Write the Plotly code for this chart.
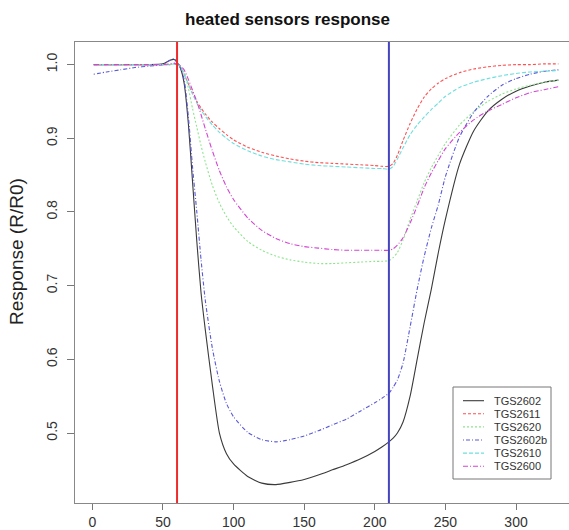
import plotly.graph_objects as go

# ---------------- data ----------------
time = [1, 10, 20, 30, 40, 50, 55, 58, 60, 62, 65, 68, 71, 74, 77, 80, 85, 90, 95, 100,
        110, 120, 130, 140, 150, 160, 170, 180, 190, 200, 205, 210, 213, 216, 220, 225,
        230, 235, 240, 245, 250, 260, 270, 280, 290, 300, 310, 320, 330]

tgs2602 = [1.0, 1.0, 1.0, 1.0, 1.0, 1.001, 1.006, 1.007, 1.003, 0.997, 0.975, 0.92, 0.84, 0.76, 0.69, 0.64, 0.565, 0.50, 0.472, 0.458,
           0.441, 0.432, 0.430, 0.433, 0.437, 0.443, 0.450, 0.457, 0.465, 0.475, 0.481, 0.488, 0.493, 0.500, 0.515, 0.55,
           0.60, 0.65, 0.695, 0.745, 0.79, 0.865, 0.91, 0.937, 0.953, 0.964, 0.971, 0.976, 0.979]

tgs2611 = [1.0, 1.0, 1.0, 1.0, 1.0, 1.0, 1.0, 1.001, 1.0, 0.998, 0.987, 0.974, 0.961, 0.950, 0.941, 0.933, 0.922, 0.913, 0.905, 0.898,
           0.888, 0.881, 0.876, 0.872, 0.869, 0.867, 0.866, 0.865, 0.864, 0.863, 0.862, 0.862, 0.866, 0.877, 0.897, 0.92,
           0.94, 0.956, 0.967, 0.975, 0.981, 0.989, 0.994, 0.997, 0.999, 1.0, 1.0, 1.001, 1.001]

tgs2620 = [1.0, 1.0, 1.0, 1.0, 1.0, 1.0, 1.0, 1.001, 1.0, 0.998, 0.99, 0.968, 0.94, 0.915, 0.89, 0.868, 0.836, 0.812, 0.794, 0.78,
           0.76, 0.748, 0.74, 0.735, 0.732, 0.730, 0.730, 0.731, 0.732, 0.733, 0.733, 0.734, 0.738, 0.745, 0.762, 0.79,
           0.815, 0.84, 0.86, 0.877, 0.893, 0.918, 0.936, 0.95, 0.96, 0.967, 0.972, 0.976, 0.979]

tgs2602b = [0.987, 0.99, 0.993, 0.996, 0.998, 1.0, 1.006, 1.008, 1.004, 0.998, 0.98, 0.93, 0.86, 0.80, 0.735, 0.68, 0.615, 0.57, 0.54, 0.522,
            0.501, 0.491, 0.488, 0.491, 0.496, 0.503, 0.511, 0.519, 0.53, 0.541, 0.547, 0.554, 0.562, 0.572, 0.595, 0.644,
            0.695, 0.74, 0.778, 0.81, 0.848, 0.902, 0.935, 0.957, 0.972, 0.981, 0.987, 0.991, 0.993]

tgs2610 = [1.0, 1.0, 1.0, 1.0, 1.0, 1.0, 1.0, 1.001, 1.0, 0.998, 0.987, 0.974, 0.960, 0.948, 0.938, 0.930, 0.918, 0.908, 0.900, 0.893,
           0.883, 0.876, 0.871, 0.868, 0.865, 0.863, 0.862, 0.861, 0.860, 0.859, 0.859, 0.858, 0.862, 0.872, 0.887, 0.905,
           0.918, 0.929, 0.939, 0.948, 0.957, 0.969, 0.976, 0.981, 0.985, 0.988, 0.99, 0.991, 0.992]

tgs2600 = [1.0, 1.0, 1.0, 1.0, 1.0, 1.0, 1.001, 1.002, 1.0, 0.999, 0.993, 0.98, 0.965, 0.95, 0.932, 0.913, 0.883, 0.856, 0.834, 0.817,
           0.792, 0.775, 0.764, 0.757, 0.753, 0.751, 0.749, 0.748, 0.748, 0.748, 0.748, 0.748, 0.75, 0.755, 0.765, 0.785,
           0.808, 0.833, 0.853, 0.87, 0.886, 0.908, 0.925, 0.937, 0.946, 0.955, 0.962, 0.966, 0.970]

series_names = ["TGS2602", "TGS2611", "TGS2620", "TGS2602b", "TGS2610", "TGS2600"]
series_values = [tgs2602, tgs2611, tgs2620, tgs2602b, tgs2610, tgs2600]

event_times = [60, 210]

x_ticks = [0, 50, 100, 150, 200, 250, 300]
y_ticks = [0.5, 0.6, 0.7, 0.8, 0.9, 1.0]

title_text = "heated sensors response"
ylabel_text = "Response (R/R0)"

# ---------------- styles ----------------
colors = ["#3a3a3a", "#ff5050", "#8ee48e", "#5a5ad8", "#70dede", "#d245d2"]
dashes = ["solid", "3px,2px", "2px,2px", "1px,2px,4px,2px", "4px,2px", "5px,2px,1px,2px"]
event_colors = ["#ee2a2a", "#4444c0"]

W, H = 569, 530
ML, MR, MT, MB = 75, 0, 42, 27

fig = go.Figure()
for name, vals, c, d in zip(series_names, series_values, colors, dashes):
    fig.add_trace(go.Scatter(x=time, y=vals, mode="lines", name=name,
                             line=dict(color=c, width=1.1, dash=d, shape="spline", smoothing=0.6),
                             showlegend=False, hoverinfo="skip"))

shapes = []
for t, c in zip(event_times, event_colors):
    shapes.append(dict(type="line", xref="x", yref="paper", x0=t, x1=t, y0=0, y1=1,
                       line=dict(color=c, width=2)))

# manual legend (pixel positions converted to paper coordinates)
pw = W - ML - MR
ph = H - MT - MB


def px2paper(px, py):
    return (px - ML) / pw, (H - MB - py) / ph


bx0, by0 = px2paper(453, 387)
bx1, by1 = px2paper(551, 479)
shapes.append(dict(type="rect", xref="paper", yref="paper", x0=bx0, x1=bx1, y0=by1, y1=by0,
                   line=dict(color="#777777", width=1), fillcolor="white", layer="above"))
annotations = []
row0 = 400.7
row_gap = 13.1
for i, (name, c, d) in enumerate(zip(series_names, colors, dashes)):
    yy = row0 + i * row_gap
    lx0, ly = px2paper(463, yy)
    lx1, _ = px2paper(484, yy)
    shapes.append(dict(type="line", xref="paper", yref="paper", x0=lx0, x1=lx1, y0=ly, y1=ly,
                       line=dict(color=c, width=1.1, dash=d), layer="above"))
    tx, _ = px2paper(492, yy)
    annotations.append(dict(x=tx, y=ly, xref="paper", yref="paper", text=name, showarrow=False,
                            xanchor="left", yanchor="middle",
                            font=dict(family="Liberation Sans, Arial", size=11, color="#333333")))

tx, ty = px2paper(287, 20)
annotations.append(dict(x=tx, y=ty, xref="paper", yref="paper", text="<b>" + title_text + "</b>",
                        showarrow=False, xanchor="center", yanchor="middle",
                        font=dict(family="Liberation Sans, Arial", size=17, color="#111111")))
lx, ly = px2paper(16, 252)
annotations.append(dict(x=lx, y=ly, xref="paper", yref="paper",
                        text=ylabel_text, showarrow=False, textangle=-90, xanchor="center", yanchor="middle",
                        font=dict(family="Liberation Sans, Arial", size=19, color="#222222")))

fig.update_layout(
    width=W, height=H,
    margin=dict(l=ML, r=MR, t=MT, b=MB, pad=0),
    paper_bgcolor="white", plot_bgcolor="white",
    shapes=shapes,
    annotations=annotations,
    showlegend=False,
    xaxis=dict(range=[-12.25, 337.5], tickvals=x_ticks, ticktext=[str(v) for v in x_ticks],
               showgrid=False, zeroline=False, showline=True, linecolor="#888888", linewidth=1,
               mirror=True, ticks="outside", ticklen=6, tickcolor="#777777",
               tickfont=dict(family="Liberation Sans, Arial", size=14, color="#333333")),
    yaxis=dict(range=[0.405, 1.0307], tickvals=y_ticks, ticktext=[f"{v:.1f}" for v in y_ticks],
               showgrid=False, zeroline=False, showline=True, linecolor="#888888", linewidth=1,
               mirror=False, ticks="outside", ticklen=7, tickcolor="#777777", tickangle=-90,
               ticklabelstandoff=4,
               tickfont=dict(family="Liberation Sans, Arial", size=14, color="#333333")),
)

fig.write_html("out.html")
